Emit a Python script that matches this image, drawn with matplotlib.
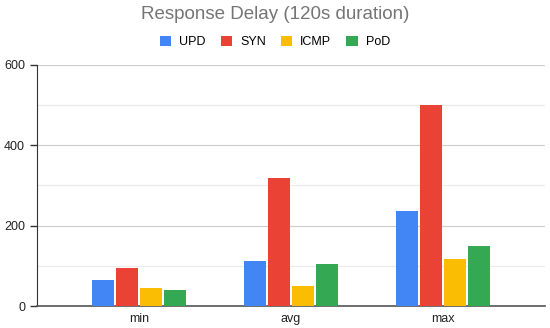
import matplotlib.pyplot as plt
import numpy as np

categories = ["min", "avg", "max"]
series_names = ["UPD", "SYN", "ICMP", "PoD"]
upd = [65, 113, 237]
syn = [95, 318, 501]
icmp = [45, 51, 117]
pod = [40, 104, 149]
colors = ["#4285F4", "#EA4335", "#FBBC04", "#34A853"]


def main() -> None:
    plt.rcParams["font.family"] = ["Liberation Sans", "DejaVu Sans"]
    fig = plt.figure(figsize=(5.5, 3.28), dpi=100)
    ax = fig.add_axes([0.067, 0.067, 0.924, 0.735])

    x = np.arange(len(categories))
    width = 0.145
    step = 0.158
    for i, (name, vals, c) in enumerate(zip(series_names, [upd, syn, icmp, pod], colors)):
        ax.bar(x + (i - 1.5) * step, vals, width, color=c, label=name, zorder=3)

    ax.set_xlim(-0.67, 2.67)
    ax.set_ylim(0, 600)
    ax.set_yticks([0, 200, 400, 600])
    ax.set_yticks([100, 300, 500], minor=True)
    ax.tick_params(axis="y", which="major", length=5, width=1, color="#333333",
                   labelsize=9, labelcolor="#222222")
    ax.tick_params(axis="y", which="minor", length=0)
    ax.set_xticks(x)
    ax.set_xticklabels(categories)
    ax.tick_params(axis="x", length=0, labelsize=9, labelcolor="#222222", pad=5)
    ax.grid(axis="y", which="major", color="#cccccc", linewidth=0.8, zorder=0)
    ax.grid(axis="y", which="minor", color="#ebebeb", linewidth=0.8, zorder=0)
    ax.spines[["top", "right"]].set_visible(False)
    ax.spines["left"].set_color("#333333")
    ax.spines["bottom"].set_color("#555555")
    ax.spines["bottom"].set_linewidth(1.2)

    fig.text(0.5, 0.955, "Response Delay (120s duration)", ha="center", va="center",
             fontsize=13.5, color="#757575")
    fig.legend(loc="center", bbox_to_anchor=(0.5, 0.872), ncol=4, frameon=False,
               fontsize=9, handlelength=0.9, handleheight=0.9, handletextpad=0.65,
               columnspacing=1.2)

    fig.savefig("out.png", dpi=100)
    plt.close(fig)


if __name__ == "__main__":
    main()
